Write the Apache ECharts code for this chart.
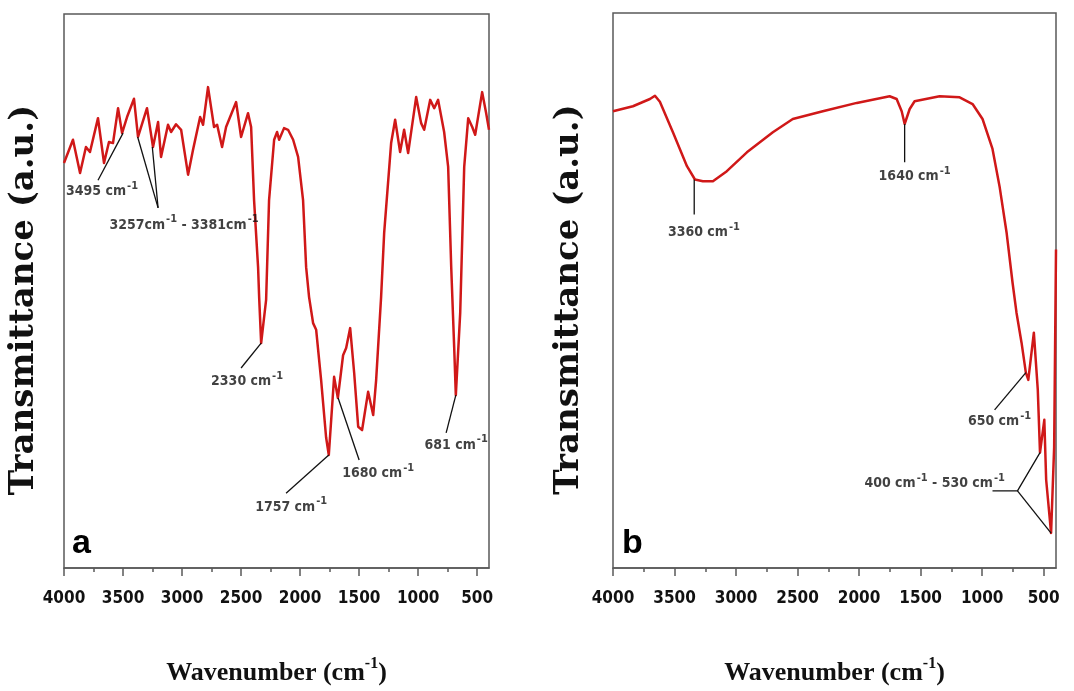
<!DOCTYPE html>
<html><head><meta charset="utf-8">
<script src="https://cdn.jsdelivr.net/npm/echarts@6/dist/echarts.min.js"></script>
<style>html,body{margin:0;padding:0;background:#fff}#c{width:1074px;height:691px}</style>
</head><body><div id="c"></div>
<script>
// ---- tick labels ----
const xMajorTicks = [4000, 3500, 3000, 2500, 2000, 1500, 1000, 500];
const xMinorTicks = [3750, 3250, 2750, 2250, 1750, 1250, 750];

// ---- panel a spectrum ----
const aWavenumber = [4000,3924,3864,3814,3780,3712,3661,3619,3585,3542,3508,3466,3407,3373,3297,3246,3203,3178,3119,3093,3051,3008,2949,2907,2847,2822,2780,2729,2703,2661,2627,2542,2500,2441,2415,2390,2356,2347,2330,2288,2263,2220,2195,2178,2136,2102,2059,2017,1975,1949,1924,1890,1864,1822,1780,1757,1712,1680,1636,1610,1576,1542,1508,1475,1424,1381,1356,1314,1288,1229,1195,1153,1119,1085,1017,975,949,898,864,831,780,746,720,695,681,644,610,576,542,517,458,424,400];
const aTransmittance = [73.1,77.3,71.3,76.0,75.1,81.2,73.1,76.9,76.7,83.0,78.5,81.4,84.7,77.8,83.0,76.0,80.5,74.2,80.0,78.7,80.1,79.1,71.0,75.5,81.4,80.0,86.8,79.6,80.0,76.0,79.6,84.1,77.8,82.1,79.6,66.4,54.3,48.9,40.6,48.4,66.4,77.3,78.7,77.3,79.4,79.1,77.3,74.2,66.4,54.3,48.9,44.2,43.0,33.9,23.6,20.4,34.5,30.7,38.4,39.7,43.3,35.2,25.5,24.9,31.8,27.6,33.9,48.9,60.5,76.7,80.9,75.1,79.1,74.9,85.0,80.3,79.1,84.5,83.0,84.5,78.7,72.4,54.3,39.9,31.2,46.0,72.4,81.2,79.6,78.2,85.9,82.1,79.1];

// ---- panel b spectrum ----
const bWavenumber = [4000,3838,3700,3659,3619,3513,3399,3334,3270,3188,3075,2912,2701,2539,2295,2019,1752,1695,1654,1630,1589,1549,1346,1183,1078,997,916,859,802,753,721,680,645,625,580,548,530,495,480,440,415,400];
const bTransmittance = [82.3,83.2,84.5,85.1,84.0,78.5,72.4,70.0,69.7,69.7,71.5,74.9,78.5,80.9,82.3,83.8,85.0,84.5,82.3,80.0,82.7,84.1,85.0,84.8,83.6,80.9,75.5,68.8,60.5,51.4,46.0,40.6,35.2,33.9,42.4,32.1,20.8,26.7,15.9,6.3,21.8,57.4];

// ---- peak annotations (text, label anchor in data units, leader polylines) ----
const aPeakTexts = ['3495 cm^-1', '3257cm^-1 - 3381cm^-1', '2330 cm^-1', '1757 cm^-1', '1680 cm^-1', '681 cm^-1'];
const aPeakTextWavenumber = [3678, 2983, 2449, 2076, 1339, 678];
const aPeakTextLevel = [67.9, 61.9, 33.6, 11.0, 17.1, 22.2];
const aLeaders = [
  [[3712, 70.0], [3500, 78.5]],
  [[3203, 65.0], [3376, 77.8]],
  [[3203, 65.0], [3252, 76.0]],
  [[2500, 36.1], [2330, 40.6]],
  [[2119, 13.5], [1757, 20.4]],
  [[1678, 30.7], [1500, 19.5]],
  [[681, 31.2], [763, 24.4]]
];

const bPeakTexts = ['3360 cm^-1', '1640 cm^-1', '650 cm^-1', '400 cm^-1 - 530 cm^-1'];
const bPeakTextWavenumber = [3261, 1549, 859, 1386];
const bPeakTextLevel = [60.5, 70.6, 26.4, 15.2];
const bLeaders = [
  [[3340, 70.0], [3340, 63.7]],
  [[1630, 80.0], [1630, 73.1]],
  [[645, 35.2], [899, 28.5]],
  [[916, 13.9], [713, 13.9], [530, 20.8]],
  [[713, 13.9], [440, 6.3]]
];

const panelLetters = ['a', 'b'];
const xName = 'Wavenumber (cm^-1)';
const yName = 'Transmittance (a.u.)';

// ---- build ----
const NARROW = "'Liberation Sans Narrow', 'DejaVu Sans Condensed', 'DejaVu Sans', sans-serif";
const SERIF = "'Liberation Serif', 'Times New Roman', serif";
const RED = '#d01818';
const FRAME = '#5a5a5a';
const INK = '#111';

function toRich(s) {
  const parts = s.split('^-1');
  let out = '';
  parts.forEach((p, i) => {
    if (p) out += '{m|' + p + '}';
    if (i < parts.length - 1) out += '{s|-1}';
  });
  return out;
}
function zip(xs, ys) { return xs.map((x, i) => [x, ys[i]]); }

const peakRich = {
  m: { fontFamily: NARROW, fontSize: 14, fontWeight: 'bold', color: INK, lineHeight: 22, verticalAlign: 'middle' },
  s: { fontFamily: NARROW, fontSize: 11, fontWeight: 'bold', color: INK, lineHeight: 22, verticalAlign: 'top', padding: [0, 0, 0, 1] }
};

function panelSeries(gi, wn, tr, texts, tw, tl, leaders) {
  const out = [];
  out.push({
    type: 'line', xAxisIndex: gi * 2, yAxisIndex: gi, data: zip(wn, tr),
    symbol: 'none', smooth: false, z: 3,
    lineStyle: { color: RED, width: 2.5, join: 'round' }
  });
  leaders.forEach(seg => out.push({
    type: 'line', xAxisIndex: gi * 2, yAxisIndex: gi, data: seg,
    symbol: 'none', z: 4, lineStyle: { color: INK, width: 1.3 }
  }));
  out.push({
    type: 'scatter', xAxisIndex: gi * 2, yAxisIndex: gi, symbolSize: 1, z: 5,
    itemStyle: { color: 'rgba(0,0,0,0)' },
    data: texts.map((t, i) => ({ name: t, value: [tw[i], tl[i]] })),
    label: { show: true, position: 'inside', formatter: p => toRich(p.name), rich: peakRich }
  });
  return out;
}

function xAxesFor(gi) {
  const common = { gridIndex: gi, type: 'value', min: 400, max: 4000, inverse: true, position: 'bottom', splitLine: { show: false } };
  return [
    Object.assign({}, common, {
      axisLine: { show: true, onZero: false, lineStyle: { color: FRAME, width: 1.5 } },
      axisTick: { show: true, customValues: xMajorTicks, length: 8, lineStyle: { color: FRAME, width: 1.5 } },
      axisLabel: { show: true, customValues: xMajorTicks, margin: 22, fontSize: 17, fontWeight: 'bold', color: INK, fontFamily: NARROW, formatter: v => String(v) },
      name: toRich(xName), nameLocation: 'middle', nameGap: 88,
      nameTextStyle: {
        rich: {
          m: { fontFamily: SERIF, fontSize: 26, fontWeight: 'bold', color: INK, lineHeight: 34, verticalAlign: 'middle' },
          s: { fontFamily: SERIF, fontSize: 16, fontWeight: 'bold', color: INK, lineHeight: 34, verticalAlign: 'top' }
        }
      }
    }),
    Object.assign({}, common, {
      axisLine: { show: false },
      axisTick: { show: true, customValues: xMinorTicks, length: 4, lineStyle: { color: FRAME, width: 1.5 } },
      axisLabel: { show: false }
    })
  ];
}

function yAxisFor(gi, gap) {
  return {
    gridIndex: gi, type: 'value', min: 0, max: 100,
    axisLine: { show: false }, axisTick: { show: false }, axisLabel: { show: false }, splitLine: { show: false },
    name: yName, nameLocation: 'middle', nameRotate: 90, nameGap: gap,
    nameTextStyle: { fontFamily: "'DejaVu Serif', serif", fontWeight: 'bold', fontSize: 34, color: INK, padding: [0, 18, 0, 0] }
  };
}

const chart = echarts.init(document.getElementById('c'), null, { renderer: 'canvas' });
chart.setOption({
  animation: false,
  backgroundColor: '#fff',
  grid: [
    { left: 64, top: 14, width: 425, height: 554, show: true, borderColor: FRAME, borderWidth: 1.5, backgroundColor: 'transparent' },
    { left: 613, top: 13, width: 443, height: 555, show: true, borderColor: FRAME, borderWidth: 1.5, backgroundColor: 'transparent' }
  ],
  xAxis: xAxesFor(0).concat(xAxesFor(1)),
  yAxis: [yAxisFor(0, 23), yAxisFor(1, 27)],
  graphic: [
    { type: 'text', left: 72, top: 527, style: { text: panelLetters[0], font: "bold 34px 'Liberation Sans', Arial, sans-serif", fill: '#000' } },
    { type: 'text', left: 622, top: 527, style: { text: panelLetters[1], font: "bold 34px 'Liberation Sans', Arial, sans-serif", fill: '#000' } }
  ],
  series: panelSeries(0, aWavenumber, aTransmittance, aPeakTexts, aPeakTextWavenumber, aPeakTextLevel, aLeaders)
    .concat(panelSeries(1, bWavenumber, bTransmittance, bPeakTexts, bPeakTextWavenumber, bPeakTextLevel, bLeaders))
});
</script></body></html>
